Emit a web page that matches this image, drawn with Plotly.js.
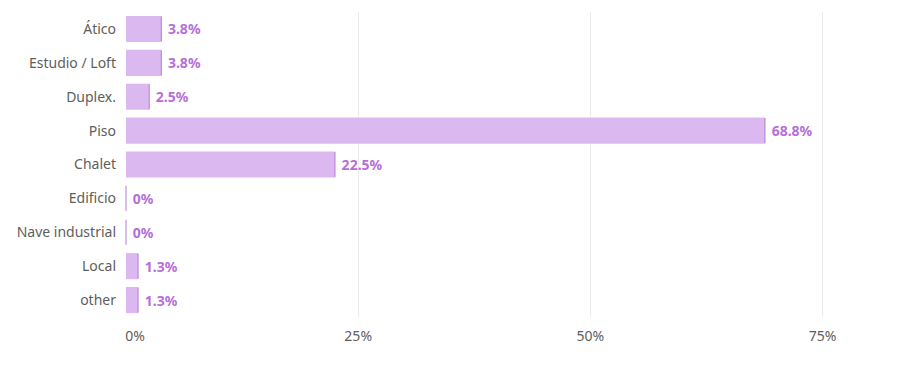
<!DOCTYPE html>
<html>
<head>
<meta charset="utf-8">
<script src="https://cdn.plot.ly/plotly-3.0.1.min.js"></script>
<style>html,body{margin:0;padding:0;background:#fff;}#chart{width:901px;height:369px;}</style>
</head>
<body>
<div id="chart"></div>
<script>
const categories = ["Ático", "Estudio / Loft", "Duplex.", "Piso", "Chalet", "Edificio", "Nave industrial", "Local", "other"];
const values = [3.8, 3.8, 2.5, 68.8, 22.5, 0, 0, 1.3, 1.3];
const tickValues = [0, 25, 50, 75];
const tickLabels = ["\u00a0\u00a0\u00a0\u00a0\u00a00%", "25%", "50%", "75%"];

const fontFam = "Noto Sans, Open Sans, sans-serif";

const bars = {
  type: "bar",
  orientation: "h",
  y: categories,
  x: values,
  marker: { color: "#dcb8f0", line: { width: 0 } },
  text: values.map(v => "\u00a0" + v + "%"),
  textposition: "outside",
  cliponaxis: false,
  textfont: { family: fontFam, size: 14, color: "#b66fd8", weight: 700 },
  hoverinfo: "skip"
};

const edges = {
  type: "scatter",
  mode: "markers",
  y: categories,
  x: values,
  marker: { symbol: "line-ns", size: 18, line: { width: 1, color: "#b57bd8" } },
  hoverinfo: "skip",
  cliponaxis: false
};

const layout = {
  width: 901,
  height: 369,
  margin: { l: 126, r: 32, t: 12, b: 52 },
  paper_bgcolor: "#ffffff",
  plot_bgcolor: "#ffffff",
  showlegend: false,
  bargap: 0.23,
  font: { family: fontFam, size: 14, color: "#605e5c" },
  xaxis: {
    range: [0, 80],
    tickvals: tickValues,
    ticktext: tickLabels,
    showgrid: true,
    gridcolor: "#ebebeb",
    gridwidth: 1,
    zeroline: false,
    showline: false,
    ticks: "",
    ticklabelstandoff: 9,
    tickfont: { family: fontFam, size: 14, color: "#605e5c" },
    fixedrange: true
  },
  yaxis: {
    type: "category",
    range: [8.5, -0.5],
    autorange: false,
    showgrid: false,
    zeroline: false,
    showline: false,
    ticks: "",
    ticklabelstandoff: 9,
    tickfont: { family: fontFam, size: 14, color: "#605e5c" },
    fixedrange: true
  }
};

Plotly.newPlot("chart", [bars, edges], layout, { displayModeBar: false, staticPlot: true });
</script>
</body>
</html>
